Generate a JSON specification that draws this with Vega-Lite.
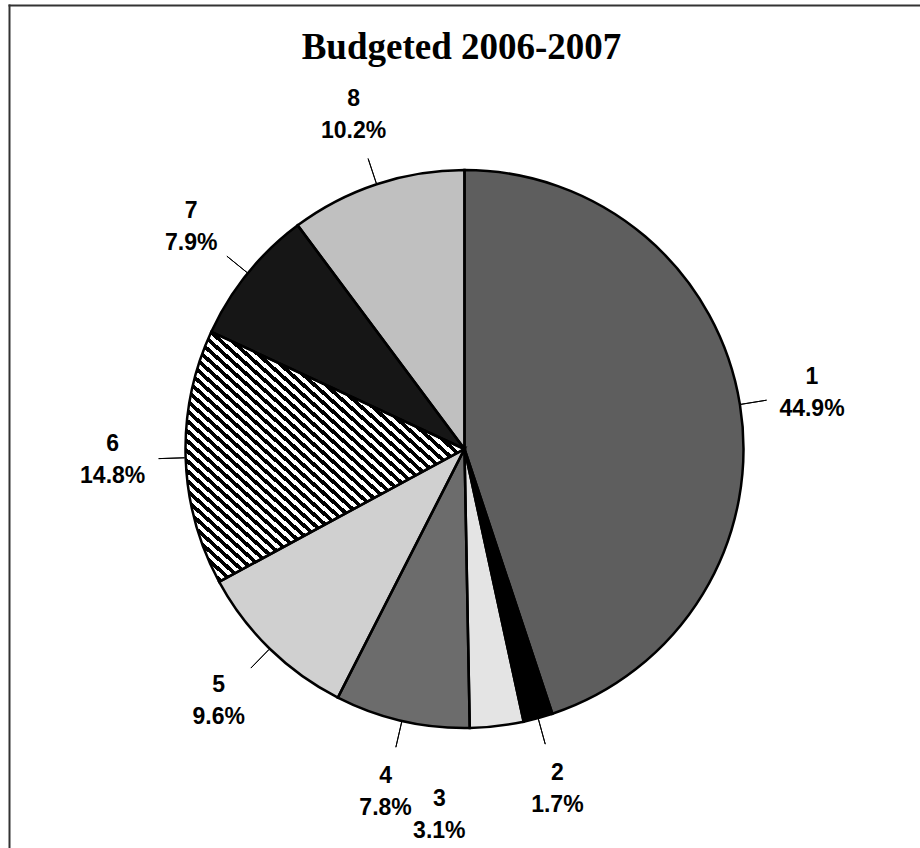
{
  "$schema": "https://vega.github.io/schema/vega-lite/v6.json",
  "width": 911,
  "height": 798,
  "autosize": "none",
  "padding": {"left": 9, "top": 50, "right": 0, "bottom": 0},
  "background": "white",
  "view": {"stroke": null, "fill": "white"},
  "title": {
    "text": "Budgeted 2006-2007",
    "font": "Liberation Serif",
    "fontSize": 37,
    "fontWeight": "bold",
    "color": "#000000",
    "anchor": "middle",
    "dx": -3,
    "offset": -62
  },
  "data": {
    "values": [
      {"category": "1", "share": 0.449},
      {"category": "2", "share": 0.017},
      {"category": "3", "share": 0.031},
      {"category": "4", "share": 0.078},
      {"category": "5", "share": 0.096},
      {"category": "6", "share": 0.148},
      {"category": "7", "share": 0.079},
      {"category": "8", "share": 0.102}
    ]
  },
  "layer": [
    {
      "description": "Chart frame: top and left border drawn as axis domain lines",
      "mark": {"type": "point", "opacity": 0},
      "encoding": {
        "x": {
          "datum": 0,
          "type": "quantitative",
          "scale": {"domain": [0, 1]},
          "axis": {"orient": "top", "domain": true, "domainColor": "#333333", "domainWidth": 2, "domainCap": "square", "ticks": false, "labels": false, "grid": false, "title": null, "offset": 45}
        },
        "y": {
          "datum": 0,
          "type": "quantitative",
          "scale": {"domain": [0, 1], "range": [798, -45]},
          "axis": {"orient": "left", "domain": true, "domainColor": "#333333", "domainWidth": 2, "domainCap": "square", "ticks": false, "labels": false, "grid": false, "title": null, "offset": 0}
        }
      }
    },
    {
      "encoding": {
        "theta": {"field": "share", "type": "quantitative", "stack": true},
        "detail": {"field": "category", "type": "nominal"},
        "order": {"field": "category", "type": "ordinal", "sort": "ascending"}
      },
      "layer": [
        {
          "mark": {"type": "arc", "outerRadius": 279, "strokeWidth": 0},
          "encoding": {
            "fill": {
              "field": "category",
              "type": "nominal",
              "legend": null,
              "scale": {
                "domain": ["1", "2", "3", "4", "5", "6", "7", "8"],
                "range": ["#5e5e5e", "#000000", "#e4e4e4", "#6c6c6c", "#d0d0d0", "#808080", "#161616", "#c0c0c0"]
              }
            }
          }
        },
        {
          "mark": {
            "type": "arc",
            "outerRadius": 279,
            "strokeWidth": 0,
            "fill": {
              "gradient": "linear",
              "x1": 0, "y1": 1, "x2": 1, "y2": 0,
              "stops": [
                {"offset":0,"color":"#000"},{"offset":0.01,"color":"#000"},{"offset":0.01,"color":"#fff"},{"offset":0.02,"color":"#fff"},
                {"offset":0.02,"color":"#000"},{"offset":0.03,"color":"#000"},{"offset":0.03,"color":"#fff"},{"offset":0.04,"color":"#fff"},
                {"offset":0.04,"color":"#000"},{"offset":0.05,"color":"#000"},{"offset":0.05,"color":"#fff"},{"offset":0.06,"color":"#fff"},
                {"offset":0.06,"color":"#000"},{"offset":0.07,"color":"#000"},{"offset":0.07,"color":"#fff"},{"offset":0.08,"color":"#fff"},
                {"offset":0.08,"color":"#000"},{"offset":0.09,"color":"#000"},{"offset":0.09,"color":"#fff"},{"offset":0.10,"color":"#fff"},
                {"offset":0.10,"color":"#000"},{"offset":0.11,"color":"#000"},{"offset":0.11,"color":"#fff"},{"offset":0.12,"color":"#fff"},
                {"offset":0.12,"color":"#000"},{"offset":0.13,"color":"#000"},{"offset":0.13,"color":"#fff"},{"offset":0.14,"color":"#fff"},
                {"offset":0.14,"color":"#000"},{"offset":0.15,"color":"#000"},{"offset":0.15,"color":"#fff"},{"offset":0.16,"color":"#fff"},
                {"offset":0.16,"color":"#000"},{"offset":0.17,"color":"#000"},{"offset":0.17,"color":"#fff"},{"offset":0.18,"color":"#fff"},
                {"offset":0.18,"color":"#000"},{"offset":0.19,"color":"#000"},{"offset":0.19,"color":"#fff"},{"offset":0.20,"color":"#fff"},
                {"offset":0.20,"color":"#000"},{"offset":0.21,"color":"#000"},{"offset":0.21,"color":"#fff"},{"offset":0.22,"color":"#fff"},
                {"offset":0.22,"color":"#000"},{"offset":0.23,"color":"#000"},{"offset":0.23,"color":"#fff"},{"offset":0.24,"color":"#fff"},
                {"offset":0.24,"color":"#000"},{"offset":0.25,"color":"#000"},{"offset":0.25,"color":"#fff"},{"offset":0.26,"color":"#fff"},
                {"offset":0.26,"color":"#000"},{"offset":0.27,"color":"#000"},{"offset":0.27,"color":"#fff"},{"offset":0.28,"color":"#fff"},
                {"offset":0.28,"color":"#000"},{"offset":0.29,"color":"#000"},{"offset":0.29,"color":"#fff"},{"offset":0.30,"color":"#fff"},
                {"offset":0.30,"color":"#000"},{"offset":0.31,"color":"#000"},{"offset":0.31,"color":"#fff"},{"offset":0.32,"color":"#fff"},
                {"offset":0.32,"color":"#000"},{"offset":0.33,"color":"#000"},{"offset":0.33,"color":"#fff"},{"offset":0.34,"color":"#fff"},
                {"offset":0.34,"color":"#000"},{"offset":0.35,"color":"#000"},{"offset":0.35,"color":"#fff"},{"offset":0.36,"color":"#fff"},
                {"offset":0.36,"color":"#000"},{"offset":0.37,"color":"#000"},{"offset":0.37,"color":"#fff"},{"offset":0.38,"color":"#fff"},
                {"offset":0.38,"color":"#000"},{"offset":0.39,"color":"#000"},{"offset":0.39,"color":"#fff"},{"offset":0.40,"color":"#fff"},
                {"offset":0.40,"color":"#000"},{"offset":0.41,"color":"#000"},{"offset":0.41,"color":"#fff"},{"offset":0.42,"color":"#fff"},
                {"offset":0.42,"color":"#000"},{"offset":0.43,"color":"#000"},{"offset":0.43,"color":"#fff"},{"offset":0.44,"color":"#fff"},
                {"offset":0.44,"color":"#000"},{"offset":0.45,"color":"#000"},{"offset":0.45,"color":"#fff"},{"offset":0.46,"color":"#fff"},
                {"offset":0.46,"color":"#000"},{"offset":0.47,"color":"#000"},{"offset":0.47,"color":"#fff"},{"offset":0.48,"color":"#fff"},
                {"offset":0.48,"color":"#000"},{"offset":0.49,"color":"#000"},{"offset":0.49,"color":"#fff"},{"offset":0.50,"color":"#fff"},
                {"offset":0.50,"color":"#000"},{"offset":0.51,"color":"#000"},{"offset":0.51,"color":"#fff"},{"offset":0.52,"color":"#fff"},
                {"offset":0.52,"color":"#000"},{"offset":0.53,"color":"#000"},{"offset":0.53,"color":"#fff"},{"offset":0.54,"color":"#fff"},
                {"offset":0.54,"color":"#000"},{"offset":0.55,"color":"#000"},{"offset":0.55,"color":"#fff"},{"offset":0.56,"color":"#fff"},
                {"offset":0.56,"color":"#000"},{"offset":0.57,"color":"#000"},{"offset":0.57,"color":"#fff"},{"offset":0.58,"color":"#fff"},
                {"offset":0.58,"color":"#000"},{"offset":0.59,"color":"#000"},{"offset":0.59,"color":"#fff"},{"offset":0.60,"color":"#fff"},
                {"offset":0.60,"color":"#000"},{"offset":0.61,"color":"#000"},{"offset":0.61,"color":"#fff"},{"offset":0.62,"color":"#fff"},
                {"offset":0.62,"color":"#000"},{"offset":0.63,"color":"#000"},{"offset":0.63,"color":"#fff"},{"offset":0.64,"color":"#fff"},
                {"offset":0.64,"color":"#000"},{"offset":0.65,"color":"#000"},{"offset":0.65,"color":"#fff"},{"offset":0.66,"color":"#fff"},
                {"offset":0.66,"color":"#000"},{"offset":0.67,"color":"#000"},{"offset":0.67,"color":"#fff"},{"offset":0.68,"color":"#fff"},
                {"offset":0.68,"color":"#000"},{"offset":0.69,"color":"#000"},{"offset":0.69,"color":"#fff"},{"offset":0.70,"color":"#fff"},
                {"offset":0.70,"color":"#000"},{"offset":0.71,"color":"#000"},{"offset":0.71,"color":"#fff"},{"offset":0.72,"color":"#fff"},
                {"offset":0.72,"color":"#000"},{"offset":0.73,"color":"#000"},{"offset":0.73,"color":"#fff"},{"offset":0.74,"color":"#fff"},
                {"offset":0.74,"color":"#000"},{"offset":0.75,"color":"#000"},{"offset":0.75,"color":"#fff"},{"offset":0.76,"color":"#fff"},
                {"offset":0.76,"color":"#000"},{"offset":0.77,"color":"#000"},{"offset":0.77,"color":"#fff"},{"offset":0.78,"color":"#fff"},
                {"offset":0.78,"color":"#000"},{"offset":0.79,"color":"#000"},{"offset":0.79,"color":"#fff"},{"offset":0.80,"color":"#fff"},
                {"offset":0.80,"color":"#000"},{"offset":0.81,"color":"#000"},{"offset":0.81,"color":"#fff"},{"offset":0.82,"color":"#fff"},
                {"offset":0.82,"color":"#000"},{"offset":0.83,"color":"#000"},{"offset":0.83,"color":"#fff"},{"offset":0.84,"color":"#fff"},
                {"offset":0.84,"color":"#000"},{"offset":0.85,"color":"#000"},{"offset":0.85,"color":"#fff"},{"offset":0.86,"color":"#fff"},
                {"offset":0.86,"color":"#000"},{"offset":0.87,"color":"#000"},{"offset":0.87,"color":"#fff"},{"offset":0.88,"color":"#fff"},
                {"offset":0.88,"color":"#000"},{"offset":0.89,"color":"#000"},{"offset":0.89,"color":"#fff"},{"offset":0.90,"color":"#fff"},
                {"offset":0.90,"color":"#000"},{"offset":0.91,"color":"#000"},{"offset":0.91,"color":"#fff"},{"offset":0.92,"color":"#fff"},
                {"offset":0.92,"color":"#000"},{"offset":0.93,"color":"#000"},{"offset":0.93,"color":"#fff"},{"offset":0.94,"color":"#fff"},
                {"offset":0.94,"color":"#000"},{"offset":0.95,"color":"#000"},{"offset":0.95,"color":"#fff"},{"offset":0.96,"color":"#fff"},
                {"offset":0.96,"color":"#000"},{"offset":0.97,"color":"#000"},{"offset":0.97,"color":"#fff"},{"offset":0.98,"color":"#fff"},
                {"offset":0.98,"color":"#000"},{"offset":0.99,"color":"#000"},{"offset":0.99,"color":"#fff"},{"offset":1,"color":"#fff"}
              ]
            }
          },
          "encoding": {
            "fillOpacity": {
              "condition": {"test": "datum.category === '6'", "value": 1},
              "value": 0
            }
          }
        },
        {
          "mark": {"type": "arc", "outerRadius": 279, "fillOpacity": 0, "stroke": "#000000", "strokeWidth": 2.5}
        },
        {
          "mark": {"type": "arc", "innerRadius": 280, "outerRadius": 306, "padAngle": 3, "fillOpacity": 0, "stroke": "#000000", "strokeWidth": 1},
          "encoding": {
            "strokeOpacity": {"condition": {"test": "datum.category === '3'", "value": 0}, "value": 1}
          }
        },
        {
          "mark": {"type": "text", "radius": 352, "dy": -16, "font": "Liberation Sans", "fontSize": 23, "fontWeight": "bold", "color": "#000000"},
          "encoding": {
            "text": {"field": "category", "type": "nominal"},
            "opacity": {"condition": {"test": "datum.category === '3'", "value": 0}, "value": 1}
          }
        },
        {
          "mark": {"type": "text", "radius": 352, "dy": 16, "font": "Liberation Sans", "fontSize": 23, "fontWeight": "bold", "color": "#000000"},
          "encoding": {
            "text": {"field": "share", "type": "quantitative", "format": ".1%"},
            "opacity": {"condition": {"test": "datum.category === '3'", "value": 0}, "value": 1}
          }
        },
        {
          "mark": {"type": "text", "radius": 352, "dx": -66, "dy": 0, "font": "Liberation Sans", "fontSize": 23, "fontWeight": "bold", "color": "#000000"},
          "encoding": {
            "text": {"field": "category", "type": "nominal"},
            "opacity": {"condition": {"test": "datum.category === '3'", "value": 1}, "value": 0}
          }
        },
        {
          "mark": {"type": "text", "radius": 352, "dx": -66, "dy": 32, "font": "Liberation Sans", "fontSize": 23, "fontWeight": "bold", "color": "#000000"},
          "encoding": {
            "text": {"field": "share", "type": "quantitative", "format": ".1%"},
            "opacity": {"condition": {"test": "datum.category === '3'", "value": 1}, "value": 0}
          }
        }
      ]
    }
  ]
}
